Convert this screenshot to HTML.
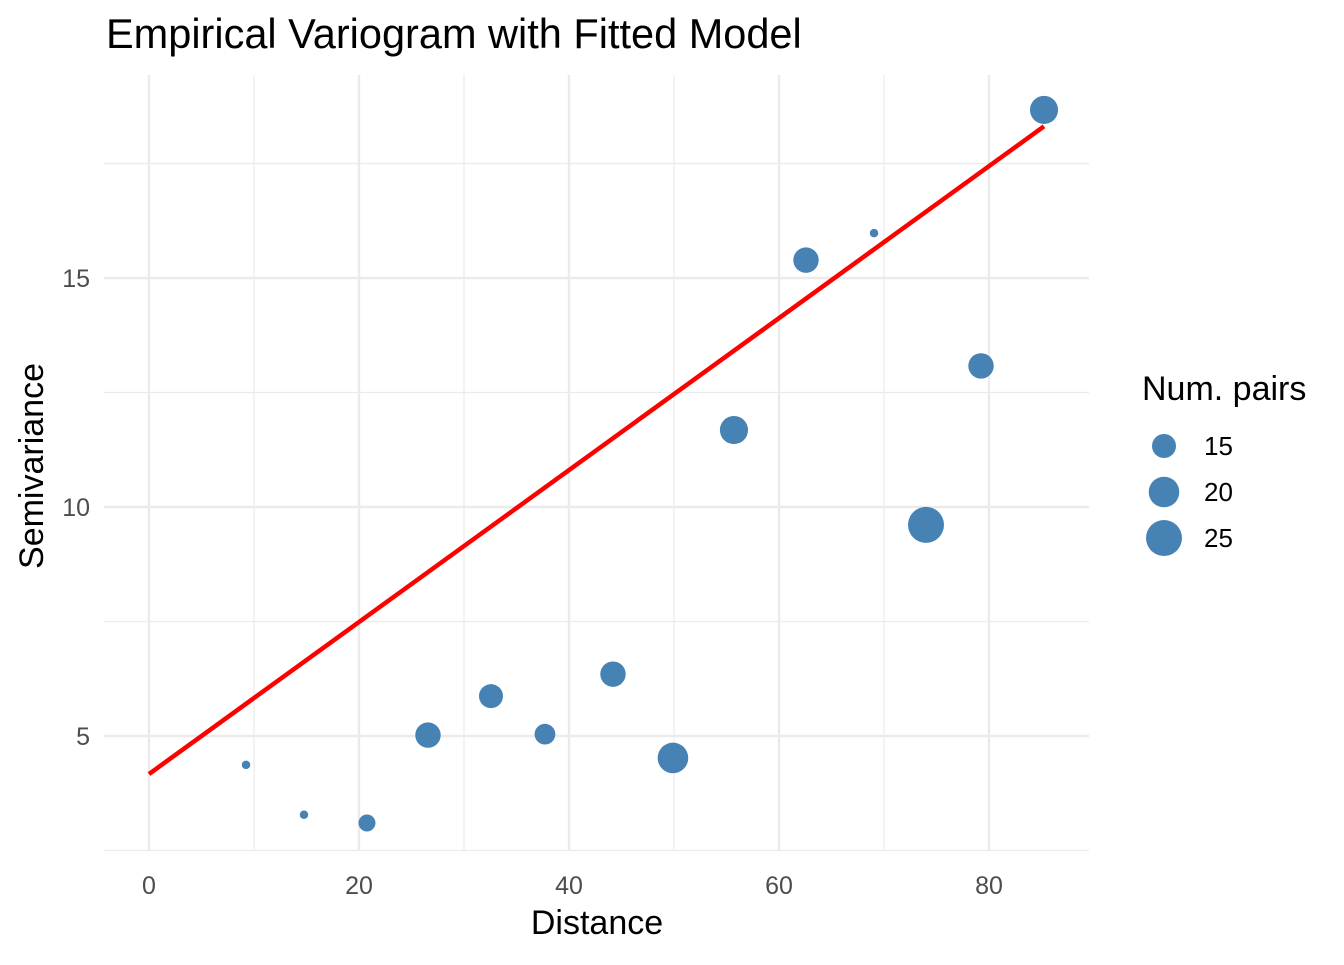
<!DOCTYPE html>
<html><head><meta charset="utf-8"><style>
body{margin:0;background:#fff;}
svg text{font-family:"Liberation Sans",sans-serif;}
</style></head><body>
<svg id="chart" width="1344" height="960" xmlns="http://www.w3.org/2000/svg">
<rect width="1344" height="960" fill="#fff"/>
<g id="grid"></g>
<g id="line"></g>
<g id="pts"></g>
<g id="ticks"></g>
<text x="106" y="48" font-size="41.5" fill="#000">Empirical Variogram with Fitted Model</text>
<text x="597" y="934" font-size="34" text-anchor="middle" fill="#000">Distance</text>
<text transform="translate(43,466) rotate(-90)" font-size="34" text-anchor="middle" fill="#000">Semivariance</text>
<g id="legend">
<text x="1142" y="400" font-size="34" fill="#000">Num. pairs</text>
</g>
</svg>
<script>
const distances=[9.24,14.76,20.76,26.57,32.57,37.71,44.19,49.9,55.71,62.57,69.05,74.0,79.24,85.24];
const gammas=[4.37,3.28,3.10,5.02,5.87,5.04,6.35,4.52,11.68,15.39,15.98,9.61,13.08,18.67];
const npairs=[8,8,11,16,15,13,16,20,18,16,8,25,16,18];
const xTicks=[0,20,40,60,80];
const yTicks=[5,10,15];
const legendVals=[15,20,25];
const modelIntercept=4.17, modelSlope=0.1659, modelXEnd=85.24;
const NS="http://www.w3.org/2000/svg";
const X0=104,X1=1089,Y0=75,Y1=851;
const sx=v=>149+v*10.5;
const sy=v=>736-(v-5)*45.8;
const rs=n=>Math.sqrt(Math.max(16,-126+18*n));
function mk(tag,attrs,parent){const e=document.createElementNS(NS,tag);for(const k in attrs)e.setAttribute(k,attrs[k]);parent.appendChild(e);return e;}
const grid=document.getElementById('grid');
[2.5,7.5,12.5,17.5].forEach(v=>{const l=mk('line',{x1:X0,x2:X1,y1:sy(v),y2:sy(v),stroke:'#ebebeb','stroke-width':1.2},grid);

});
[10,30,50,70].forEach(v=>{const l=mk('line',{x1:sx(v),x2:sx(v),y1:Y0,y2:Y1,stroke:'#ebebeb','stroke-width':1.2},grid);

});
yTicks.forEach(v=>{const l=mk('line',{x1:X0,x2:X1,y1:sy(v),y2:sy(v),stroke:'#ebebeb','stroke-width':2.4},grid);

});
xTicks.forEach(v=>{const l=mk('line',{x1:sx(v),x2:sx(v),y1:Y0,y2:Y1,stroke:'#ebebeb','stroke-width':2.4},grid);

});
const ticks=document.getElementById('ticks');
xTicks.forEach(v=>{const t=mk('text',{x:sx(v),y:894,'font-size':25,fill:'#4d4d4d','text-anchor':'middle'},ticks);t.textContent=v;

});
yTicks.forEach(v=>{const t=mk('text',{x:90,y:sy(v)+9,'font-size':25,fill:'#4d4d4d','text-anchor':'end'},ticks);t.textContent=v;

});
const ln=mk('line',{x1:sx(0),y1:sy(modelIntercept),x2:sx(modelXEnd),y2:sy(modelIntercept+modelSlope*modelXEnd),stroke:'#ff0000','stroke-width':4.5},document.getElementById('line'));


const pts=document.getElementById('pts');
distances.forEach((d,i)=>{const c=mk('circle',{cx:sx(d),cy:sy(gammas[i]),r:rs(npairs[i]),fill:'#4682b4'},pts);

});
const lg=document.getElementById('legend');
legendVals.forEach((v,i)=>{const y=446+i*46;
const c=mk('circle',{cx:1164,cy:y,r:rs(v),fill:'#4682b4'},lg);


const t=mk('text',{x:1204,y:y+9,'font-size':26,fill:'#000'},lg);t.textContent=v;

});
</script>
</body></html>
